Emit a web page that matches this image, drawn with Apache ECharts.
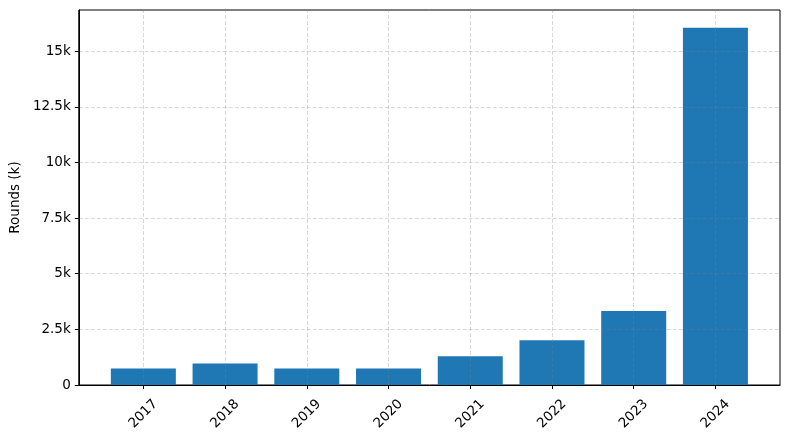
<!DOCTYPE html>
<html>
<head>
<meta charset="utf-8">
<script src="https://cdn.jsdelivr.net/npm/echarts@6.0.0/dist/echarts.min.js"></script>
<style>
  html, body { margin: 0; padding: 0; background: #fff; }
  #chart { width: 790px; height: 440px; }
</style>
</head>
<body>
<div id="chart"></div>
<script>
var years = ["2017", "2018", "2019", "2020", "2021", "2022", "2023", "2024"];
var rounds = [740, 970, 740, 740, 1290, 2010, 3330, 16050];
var yTicks = [0, 2500, 5000, 7500, 10000, 12500, 15000];
var yTickLabels = ["0", "2.5k", "5k", "7.5k", "10k", "12.5k", "15k"];

var gridStyle = { color: "rgba(128,128,128,0.3)", type: [4, 2], width: 1 };
var font = "DejaVu Sans";

var chart = echarts.init(document.getElementById("chart"));

var xIdx = years.map(function (y, i) { return i; });

var option = {
  animation: false,
  grid: {
    left: 78, right: 10, top: 10, bottom: 55,
    show: true, borderColor: "#000", borderWidth: 1
  },
  xAxis: {
    type: "value",
    min: -0.79,
    max: 7.79,
    axisLine: { show: true, onZero: false, lineStyle: { color: "#000" } },
    axisTick: {
      show: true, customValues: xIdx, length: 4,
      lineStyle: { color: "#000" }
    },
    axisLabel: {
      customValues: xIdx,
      rotate: 45,
      align: "center",
      verticalAlign: "middle",
      margin: 29,
      color: "#000",
      fontFamily: font,
      fontSize: 13.5,
      formatter: function (v) { return years[Math.round(v)]; }
    },
    splitLine: { show: false }
  },
  yAxis: {
    type: "value",
    min: 0,
    max: 16850,
    name: "Rounds (k)",
    nameLocation: "middle",
    nameGap: 55,
    nameTextStyle: { color: "#000", fontFamily: font, fontSize: 13.5 },
    axisLine: { show: true, onZero: false, lineStyle: { color: "#000" } },
    axisTick: {
      show: true, customValues: yTicks, length: 4,
      lineStyle: { color: "#000" }
    },
    axisLabel: {
      customValues: yTicks,
      margin: 8,
      color: "#000",
      fontFamily: font,
      fontSize: 13.5,
      formatter: function (v) { return yTickLabels[yTicks.indexOf(v)]; }
    },
    splitLine: { show: false }
  },
  series: [
    {
      type: "bar",
      barWidth: 65,
      itemStyle: { color: "#1f77b4" },
      data: rounds.map(function (v, i) { return [i, v]; }),
      markLine: {
        silent: true,
        symbol: "none",
        label: { show: false },
        lineStyle: gridStyle,
        data: xIdx.map(function (i) { return { xAxis: i }; })
          .concat(yTicks.slice(1).map(function (v) { return { yAxis: v }; }))
      }
    }
  ]
};

chart.setOption(option);
</script>
</body>
</html>
